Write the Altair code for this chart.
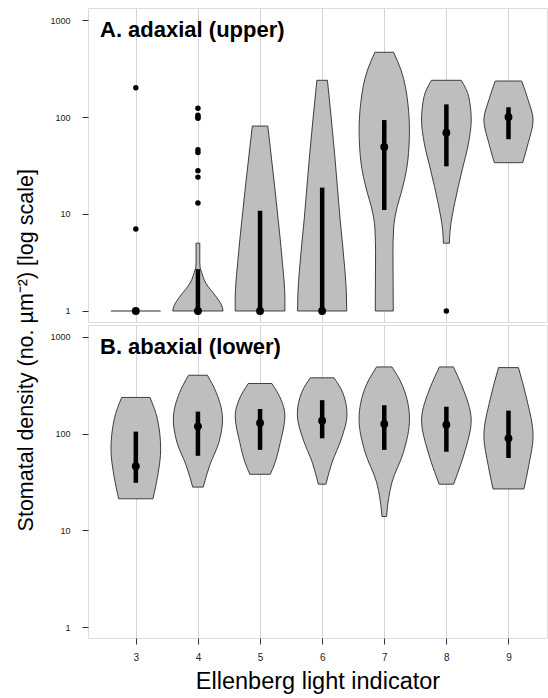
import altair as alt
import pandas as pd

FONT = "Liberation Sans"
CATS = [3, 4, 5, 6, 7, 8, 9]

# ---- violin outlines: density value (stomata per um^2) and half-width (category units)
A3_DENS = [1.0]
A3_HALF = [0.40]
A4_DENS = [1.0, 1.15, 1.3, 1.55, 1.8, 2.1, 2.5, 2.8, 3.2, 5.0]
A4_HALF = [0.405, 0.38, 0.33, 0.24, 0.16, 0.10, 0.06, 0.035, 0.03, 0.03]
A5_DENS = [1.0, 1.41, 2.09, 3.16, 5.9, 19, 80.7]
A5_HALF = [0.40, 0.40, 0.385, 0.36, 0.32, 0.236, 0.125]
A6_DENS = [1.0, 1.53, 2.63, 8.7, 42, 239]
A6_HALF = [0.396, 0.39, 0.366, 0.29, 0.20, 0.085]
A7_DENS = [1.0, 4.0, 7.0, 12, 16.3, 36, 73, 138, 305, 465]
A7_HALF = [0.145, 0.14, 0.15, 0.21, 0.27, 0.38, 0.405, 0.38, 0.27, 0.15]
A8_DENS = [5.0, 6.8, 12.9, 28.4, 53.7, 93, 162, 239]
A8_HALF = [0.048, 0.06, 0.133, 0.254, 0.356, 0.40, 0.36, 0.24]
A9_DENS = [33.8, 53.6, 93, 150, 235]
A9_HALF = [0.228, 0.316, 0.396, 0.316, 0.213]

B3_DENS = [21.2, 36.9, 69, 141, 237]
B3_HALF = [0.276, 0.353, 0.40, 0.348, 0.228]
B4_DENS = [28, 46.8, 81, 141, 267, 402]
B4_HALF = [0.085, 0.188, 0.337, 0.396, 0.294, 0.152]
B5_DENS = [38, 50, 81, 153, 228, 330]
B5_HALF = [0.165, 0.24, 0.326, 0.40, 0.334, 0.19]
B6_DENS = [30, 50.6, 88, 158, 267, 378]
B6_HALF = [0.061, 0.16, 0.308, 0.40, 0.33, 0.19]
B7_DENS = [13.9, 21.2, 31.5, 64, 141, 313, 490]
B7_HALF = [0.037, 0.069, 0.124, 0.308, 0.406, 0.294, 0.124]
B8_DENS = [30, 40, 69, 136, 313, 490]
B8_HALF = [0.116, 0.188, 0.308, 0.40, 0.249, 0.112]
B9_DENS = [26.8, 46.8, 95, 228, 482]
B9_HALF = [0.249, 0.326, 0.396, 0.294, 0.16]

# ---- medians and interquartile ranges
A_MEDIAN = [1, 1, 1, 1, 49, 69, 100]
A_Q1 = [1, 1, 1, 1, 11, 31, 59]
A_Q3 = [1, 2.7, 10.8, 18.7, 93, 135, 126]
B_MEDIAN = [46, 119, 129, 136, 126, 124, 89.5]
B_Q1 = [31, 59, 68, 89.5, 68, 65, 56]
B_Q3 = [105, 169, 180, 222, 197, 190, 173]

# ---- outliers (panel A)
A_OUT_CAT = [3, 3, 4, 4, 4, 4, 4, 4, 4, 4, 4, 8]
A_OUT_VAL = [200, 7, 123, 104, 100, 97, 46, 43, 28, 24, 13, 1]

PANEL_LABELS = {"A": "A. adaxial (upper)", "B": "B. abaxial (lower)"}

violins = {
    "A": [(4, A4_DENS, A4_HALF), (5, A5_DENS, A5_HALF), (6, A6_DENS, A6_HALF),
          (7, A7_DENS, A7_HALF), (8, A8_DENS, A8_HALF), (9, A9_DENS, A9_HALF)],
    "B": [(3, B3_DENS, B3_HALF), (4, B4_DENS, B4_HALF), (5, B5_DENS, B5_HALF),
          (6, B6_DENS, B6_HALF), (7, B7_DENS, B7_HALF), (8, B8_DENS, B8_HALF),
          (9, B9_DENS, B9_HALF)],
}
flat = {"A": [(3, A3_DENS, A3_HALF)], "B": []}
stats = {"A": (A_MEDIAN, A_Q1, A_Q3), "B": (B_MEDIAN, B_Q1, B_Q3)}

XSCALE = alt.Scale(domain=[2.23, 9.62], nice=False, zero=False)
YSCALE = alt.Scale(type="log", domain=[0.77, 1330], nice=False)
W, H = 459, 314


def panel(pid, bottom):
    vrows = []
    for cat, dens, half in violins[pid]:
        for d, h in zip(dens, half):
            vrows.append({"vid": f"{pid}{cat}", "dens": d,
                          "xl": cat - h, "xr": cat + h})
    vdf = pd.DataFrame(vrows)

    if bottom:
        xaxis = alt.Axis(values=CATS, grid=True, gridColor="#d4d4d4", domain=False,
                         ticks=True, tickSize=6, tickColor="#333", labelFontSize=10,
                         labelPadding=8, labelColor="#222", title="Ellenberg light indicator",
                         titleFontSize=23.5, titleFontWeight="normal", titlePadding=7,
                         titleColor="#000", format="d")
    else:
        xaxis = alt.Axis(values=CATS, grid=True, gridColor="#d4d4d4", domain=False,
                         ticks=False, labels=False, title=None)
    yaxis = alt.Axis(values=[1, 10, 100, 1000], format="d", grid=False, domain=False,
                     tickSize=6, tickColor="#333", labelFontSize=9, labelColor="#222",
                     labelPadding=12, title=None)

    area = alt.Chart(vdf).mark_area(
        orient="horizontal", interpolate="monotone", fill="#bebebe",
        stroke="#2b2b2b", strokeWidth=0.9, opacity=1
    ).encode(
        y=alt.Y("dens:Q", scale=YSCALE, axis=yaxis, stack=None),
        x=alt.X("xl:Q", scale=XSCALE, axis=xaxis, stack=None),
        x2="xr:Q",
        detail="vid:N",
    )
    layers = [area]

    if flat[pid]:
        frows = []
        for cat, dens, half in flat[pid]:
            frows.append({"dens": dens[0], "xl": cat - half[0], "xr": cat + half[0]})
        layers.append(alt.Chart(pd.DataFrame(frows)).mark_rule(
            color="#2b2b2b", strokeWidth=1).encode(
            y=alt.Y("dens:Q", scale=YSCALE), x=alt.X("xl:Q", scale=XSCALE), x2="xr:Q"))

    med, q1, q3 = stats[pid]
    sdf = pd.DataFrame({"cat": CATS, "med": med, "q1": q1, "q3": q3})
    layers.append(alt.Chart(sdf).mark_rule(color="black", strokeWidth=4.5, strokeCap="butt").encode(
        x=alt.X("cat:Q", scale=XSCALE), y=alt.Y("q1:Q", scale=YSCALE), y2="q3:Q"))
    layers.append(alt.Chart(sdf).mark_circle(color="black", size=62, opacity=1).encode(
        x=alt.X("cat:Q", scale=XSCALE), y=alt.Y("med:Q", scale=YSCALE)))

    if pid == "A":
        odf = pd.DataFrame({"cat": A_OUT_CAT, "val": A_OUT_VAL})
        layers.append(alt.Chart(odf).mark_circle(color="black", size=30, opacity=1).encode(
            x=alt.X("cat:Q", scale=XSCALE), y=alt.Y("val:Q", scale=YSCALE)))

    ldf = pd.DataFrame({"label": [PANEL_LABELS[pid]]})
    layers.append(alt.Chart(ldf).mark_text(
        align="left", baseline="alphabetic", fontSize=22, fontWeight="bold",
        font=FONT, color="black"
    ).encode(x=alt.value(12), y=alt.value(29), text="label:N"))

    return alt.layer(*layers).properties(width=W, height=H if pid == "A" else H - 1)


chart = alt.vconcat(panel("A", False), panel("B", True), spacing=1).properties(
    title=alt.TitleParams(text="Stomatal density (no. µm⁻²) [log scale]", orient="left",
                          anchor="middle", fontSize=21.5, fontWeight="normal", font=FONT,
                          color="#000", offset=12),
    padding={"left": 15, "top": 7, "right": 0, "bottom": 5},
).configure_view(stroke="#333", strokeWidth=1.5).configure_axis(
    labelFont=FONT, titleFont=FONT
).configure(background="white")

chart.save("out.html", embed_options={"renderer": "svg", "actions": False})
